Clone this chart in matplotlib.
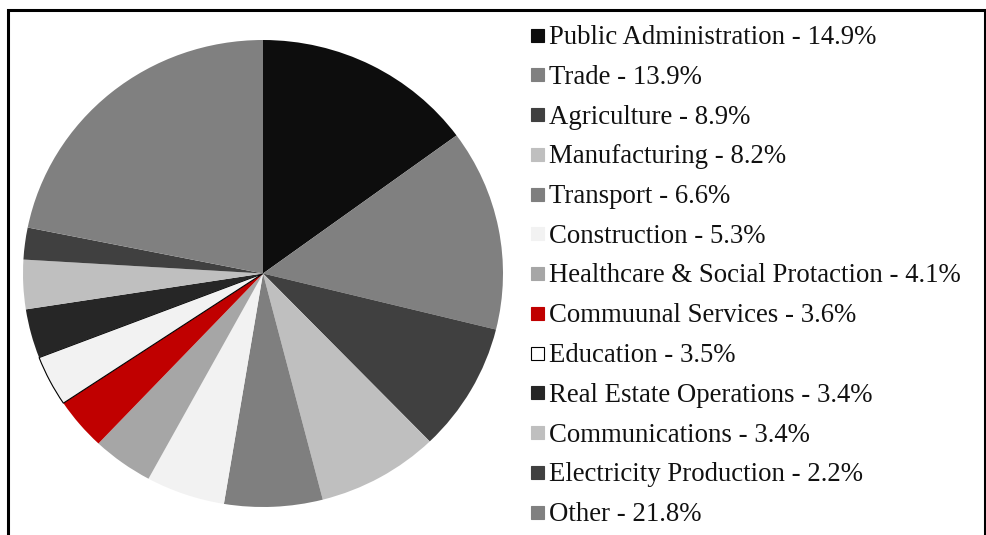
import matplotlib.pyplot as plt
from matplotlib.patches import Rectangle

plt.rcParams['font.family'] = ['Liberation Serif', 'DejaVu Serif']

sectors = ['Public Administration', 'Trade', 'Agriculture', 'Manufacturing',
           'Transport', 'Construction', 'Healthcare & Social Protaction',
           'Commuunal Services', 'Education', 'Real Estate Operations',
           'Communications', 'Electricity Production', 'Other']
shares = [14.9, 13.9, 8.9, 8.2, 6.6, 5.3, 4.1, 3.6, 3.5, 3.4, 3.4, 2.2, 21.8]
colors = ['#0d0d0d', '#808080', '#404040', '#bfbfbf', '#7f7f7f', '#f2f2f2',
          '#a6a6a6', '#c00000', '#f2f2f2', '#262626', '#bfbfbf', '#404040',
          '#808080']
outlined = ['Education']

W, H = 986, 535
fig = plt.figure(figsize=(W / 100, H / 100), dpi=100)

# pie area in pixels: x 23..503, y 40..507 (from top)
ax = fig.add_axes([23 / W, 1 - 507 / H, 480 / W, 467 / H])
wedges, _ = ax.pie(shares, colors=colors, startangle=90, counterclock=False,
                   radius=1, wedgeprops=dict(linewidth=0))
for w, name in zip(wedges, sectors):
    if name in outlined:
        w.set_edgecolor('black')
        w.set_linewidth(0.8)
ax.set_aspect('auto')
ax.set_xlim(-1, 1)
ax.set_ylim(-1, 1)
ax.axis('off')

# legend drawn by hand
y0, step = 35, 39.75
for i, (name, val, c) in enumerate(zip(sectors, shares, colors)):
    yc = y0 + i * step
    ec = 'black' if name in outlined else c
    fc = 'white' if name in outlined else c
    fig.add_artist(Rectangle((530.5 / W, 1 - (yc + 6.5) / H), 13 / W, 13 / H,
                             transform=fig.transFigure, facecolor=fc,
                             edgecolor=ec, linewidth=0.8))
    fig.text(549 / W, 1 - (yc + 2.5) / H, f'{name} - {val}%', fontsize=19.3,
             va='center', ha='left', color='#111111')

# outer frame
fig.add_artist(Rectangle((7.5 / W, -0.05), 977 / W, 1.05 - 9.5 / H,
                         transform=fig.transFigure, fill=False,
                         edgecolor='black', linewidth=2.2))

fig.savefig('out.png', dpi=100)
